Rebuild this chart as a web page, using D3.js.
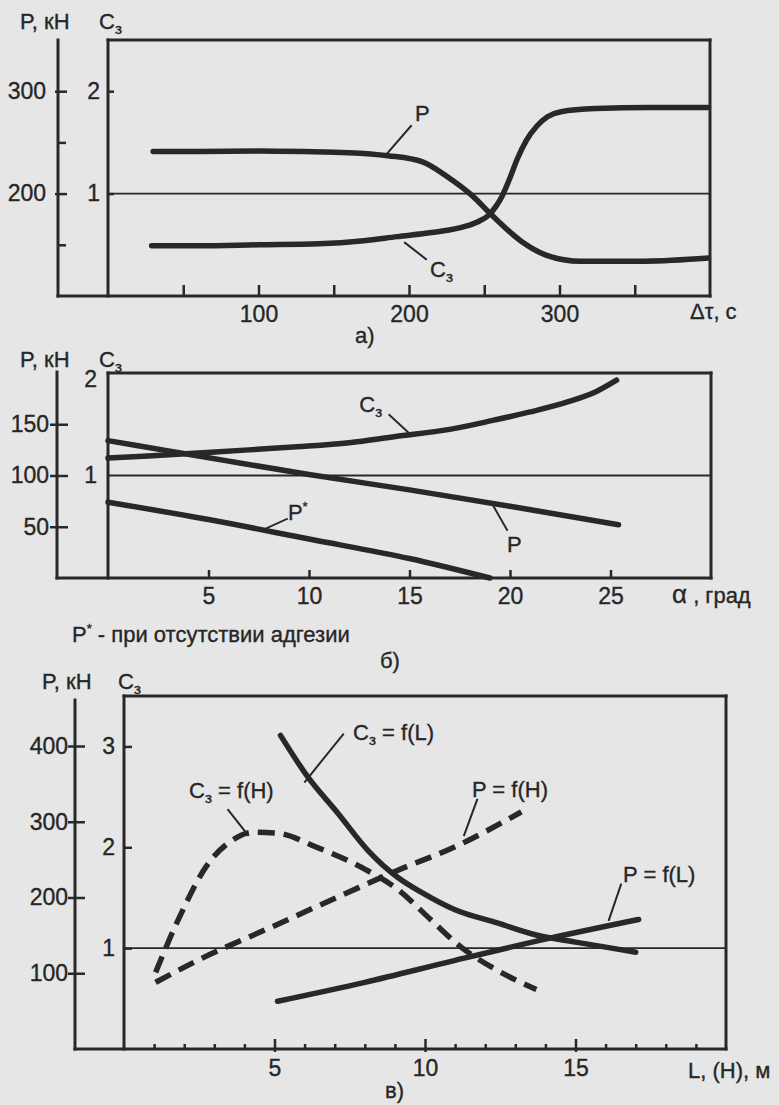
<!DOCTYPE html>
<html>
<head>
<meta charset="utf-8">
<script src="https://cdn.jsdelivr.net/npm/d3@7"></script>
<style>
body { margin:0; background:#e6e6e6; }
svg { display:block; }
text { font-family:"Liberation Sans", Arial, sans-serif; fill:#262626; stroke:#262626; stroke-width:0.35px; }
</style>
</head>
<body>
<svg id="fig" width="779" height="1105"></svg>
<script>
/* panel а) : P and Cз vs Δτ */
var tauTicks = [50,100,150,200,250,300,350];
var tauLabels = [100,200,300];
var aPTicks = [200,300], aPMinor = [150,250], aCTicks = [1,2];
var aP_tau = [30,60,100,130,160,186,209,225,242,255,275,291,314,357,399];
var aP_val = [241,241,241.5,241,240,237,231,217,198,179,153,140,134,134,137];
var aC_tau = [29,60,100,140,170,192,215,232,245,253,258,262,267,272,278,285,292,301,324,360,399];
var aC_val = [0.49,0.49,0.5,0.51,0.54,0.58,0.62,0.66,0.72,0.79,0.88,0.98,1.15,1.34,1.52,1.66,1.75,1.8,1.83,1.84,1.84];

/* panel б) : P, P*, Cз vs α */
var alphaTicks = [5,10,15,20,25];
var bPTicks = [50,100,150], bCTicks = [1,2];
var bC_a = [0,2,4.5,7,9.4,12,14.3,17,19.2,21,22.9,24.3,25.3];
var bC_val = [1.17,1.19,1.22,1.25,1.28,1.32,1.38,1.45,1.54,1.62,1.72,1.82,1.93];
var bP_a = [0,3,6,10,15,20,25.4];
var bP_val = [134,124,114,101,86,70,52];
var bPs_a = [0,5,10,15,19];
var bPs_val = [74,57,38,19,0];

/* panel в) : vs L (solid) and H (dashed) */
var lTicks = [1,2,3,4,5,6,7,8,9,10,11,12,13,14,15,16,17,18,19];
var lLabels = [5,10,15];
var cPTicks = [100,200,300,400], cCTicks = [1,2,3];
var cCL_x = [5.2,6.1,7.1,8.1,9.1,9.9,11.0,12.4,13.7,15.0,16.2,17.0];
var cCL_val = [3.11,2.70,2.34,1.97,1.70,1.55,1.38,1.25,1.13,1.06,1.00,0.96];
var cPL_x = [5.1,8,11,14,17.1];
var cPL_val = [63,88,117,145,171];
var cCH_x = [1.05,1.8,2.8,3.6,4.3,5.1,6.4,7.9,9.1,10.2,11.2,12.4,13.7];
var cCH_val = [0.76,1.28,1.84,2.07,2.15,2.14,2.00,1.80,1.58,1.28,1.01,0.78,0.59];
var cPH_x = [1.05,2.5,4.9,7.4,9.1,11.0,13.2];
var cPH_val = [88,118,161,206,236,267,313];

var ink = "#282828";
var fs = 22;   // label size
var svg = d3.select("#fig");

function zip(xs, ys){ return xs.map(function(d,i){ return [d, ys[i]]; }); }

function curve(g, pts, x, y, dashed){
  var line = d3.line()
    .x(function(d){ return x(d[0]); })
    .y(function(d){ return y(d[1]); })
    .curve(d3.curveMonotoneX);
  g.append("path")
    .datum(pts)
    .attr("fill","none")
    .attr("stroke",ink)
    .attr("stroke-width",5.5)
    .attr("stroke-linecap", dashed ? "butt" : "round")
    .attr("stroke-linejoin","round")
    .attr("stroke-dasharray", dashed ? "17,9" : null)
    .attr("d", line);
}

function seg(g, x1,y1,x2,y2,w){
  g.append("line").attr("x1",x1).attr("y1",y1).attr("x2",x2).attr("y2",y2)
   .attr("stroke",ink).attr("stroke-width",w||3).attr("stroke-linecap","square");
}

// "C" with subscript з
function cz(g, x, y, size, rest){
  var t = g.append("text").attr("x",x).attr("y",y).style("font-size",size+"px");
  t.append("tspan").text("C");
  t.append("tspan").attr("dy",5).style("font-size",(size*0.7)+"px").text("з");
  if(rest){ t.append("tspan").attr("dy",-5).text(rest); }
  return t;
}

function label(g, txt, x, y, size){
  return g.append("text").attr("x",x).attr("y",y).style("font-size",(size||fs)+"px").text(txt);
}

function styleAxis(a){
  a.select(".domain").remove();
  a.selectAll(".tick line").attr("stroke",ink).attr("stroke-width",2.5);
  a.selectAll(".tick text").attr("fill",ink).style("font-size","23px")
   .style("font-family","'Liberation Sans', Arial, sans-serif");
}

// frame: outer P axis, inner Cз box, bottom line, C=1 reference line
function frame(g, outerX, outerTop, x, yc){
  var l = x.range()[0], r = x.range()[1], b = yc.range()[0], t = yc.range()[1];
  seg(g, outerX, outerTop, outerX, b);
  seg(g, outerX, b, r, b);
  seg(g, l, t, r, t);
  seg(g, l, t, l, b);
  seg(g, r, t, r, b);
  g.append("line").attr("x1",l).attr("x2",r).attr("y1",yc(1)).attr("y2",yc(1))
   .attr("stroke",ink).attr("stroke-width",1.8);
}

var fmt = d3.format("d");

/* ---------- а) ---------- */
(function(){
  var g = svg.append("g");
  var x = d3.scaleLinear().domain([0,400]).range([108,710]);
  var yc = d3.scaleLinear().domain([0,2.5]).range([296,40]);
  var yp = d3.scaleLinear().domain([100,350]).range([296,40]);

  frame(g, 58, 40, x, yc);

  var ax = g.append("g").attr("transform","translate(0,296)")
    .call(d3.axisBottom(x).tickValues(tauTicks).tickSize(-11).tickPadding(10)
      .tickFormat(function(d){ return tauLabels.indexOf(d) >= 0 ? d : ""; }));
  styleAxis(ax);

  var ap = g.append("g").attr("transform","translate(58,0)")
    .call(d3.axisLeft(yp).tickValues(aPTicks).tickSize(-9).tickPadding(12).tickFormat(fmt));
  styleAxis(ap);
  ap.selectAll(".tick line").attr("x1",-3);
  var am = g.append("g").attr("transform","translate(58,0)")
    .call(d3.axisLeft(yp).tickValues(aPMinor).tickSize(-8).tickFormat(""));
  styleAxis(am);
  var ac = g.append("g").attr("transform","translate(108,0)")
    .call(d3.axisLeft(yc).tickValues(aCTicks).tickSize(-6).tickPadding(8).tickFormat(fmt));
  styleAxis(ac);

  curve(g, zip(aP_tau, aP_val), x, yp);
  curve(g, zip(aC_tau, aC_val), x, yc);

  label(g, "P, кН", 20, 29);
  cz(g, 99, 29, fs);
  label(g, "Δτ, с", 690, 319);
  label(g, "а)", 355, 343);

  label(g, "P", x(204), yc(1.71));
  seg(g, x(201.3), yc(1.66), x(185.4), yc(1.39), 2);
  cz(g, x(214), yc(0.19), fs);
  seg(g, x(211.3), yc(0.36), x(197.3), yc(0.52), 2);
})();

/* ---------- б) ---------- */
(function(){
  var g = svg.append("g");
  var x = d3.scaleLinear().domain([0,30]).range([108,711]);
  var yc = d3.scaleLinear().domain([0,2]).range([578,373]);
  var yp = d3.scaleLinear().domain([0,200]).range([578,373]);

  frame(g, 57, 372, x, yc);

  var ax = g.append("g").attr("transform","translate(0,578)")
    .call(d3.axisBottom(x).tickValues(alphaTicks).tickSize(-8).tickPadding(10));
  styleAxis(ax);

  var ap = g.append("g").attr("transform","translate(57,0)")
    .call(d3.axisLeft(yp).tickValues(bPTicks).tickSize(-11).tickPadding(8).tickFormat(fmt));
  styleAxis(ap);
  ap.selectAll(".tick line").attr("x1",-7);
  var ac = g.append("g").attr("transform","translate(108,0)")
    .call(d3.axisLeft(yc).tickValues(bCTicks).tickSize(0).tickPadding(11).tickFormat(fmt));
  styleAxis(ac);
  ac.selectAll(".tick text").attr("dy", function(d){ return d == 2 ? "0.6em" : "0.32em"; });

  curve(g, zip(bC_a, bC_val), x, yc);
  curve(g, zip(bP_a, bP_val), x, yp);
  curve(g, zip(bPs_a, bPs_val), x, yp);

  label(g, "P, кН", 20, 367);
  cz(g, 99, 367, fs);
  var al = g.append("text").attr("x",672).attr("y",603).style("font-size",fs+"px");
  al.append("tspan").style("font-size","26px").text("α");
  al.append("tspan").text(" , град");

  var pn = g.append("text").attr("x",72).attr("y",642).style("font-size",fs+"px");
  pn.append("tspan").text("P");
  pn.append("tspan").attr("dy",-9).style("font-size","13px").text("*");
  pn.append("tspan").attr("dy",9).text(" - при отсутствии адгезии");
  label(g, "б)", 380, 668);

  cz(g, x(12.5), yc(1.62), fs);
  seg(g, x(14.0), yc(1.59), x(15.0), yc(1.41), 2);
  label(g, "P", x(19.85), yp(25));
  seg(g, x(19.85), yp(47), x(19.15), yp(71), 2);
  var ps = g.append("text").attr("x",x(8.95)).attr("y",yp(57)).style("font-size",fs+"px");
  ps.append("tspan").text("P");
  ps.append("tspan").attr("dy",-9).style("font-size","13px").text("*");
  seg(g, x(8.9), yp(57.6), x(7.7), yp(46.8), 2);
})();

/* ---------- в) ---------- */
(function(){
  var g = svg.append("g");
  var x = d3.scaleLinear().domain([0,20]).range([124,726]);
  var yc = d3.scaleLinear().domain([0,3.5]).range([1049,696]);
  var yp = d3.scaleLinear().domain([0,466]).range([1049,696]);

  frame(g, 75, 700, x, yc);

  var ax = g.append("g").attr("transform","translate(0,1049)")
    .call(d3.axisBottom(x).tickValues(lTicks).tickSize(-5).tickPadding(11)
      .tickFormat(function(d){ return lLabels.indexOf(d) >= 0 ? d : ""; }));
  styleAxis(ax);
  ax.selectAll(".tick").filter(function(d){ return lLabels.indexOf(d) >= 0; })
    .select("line").attr("y2",-10).attr("y1",3);

  var ap = g.append("g").attr("transform","translate(75,0)")
    .call(d3.axisLeft(yp).tickValues(cPTicks).tickSize(-10).tickPadding(7).tickFormat(fmt));
  styleAxis(ap);
  ap.selectAll(".tick line").attr("x1",-7);
  var ac = g.append("g").attr("transform","translate(123,0)")
    .call(d3.axisLeft(yc).tickValues(cCTicks).tickSize(-9).tickPadding(8).tickFormat(fmt));
  styleAxis(ac);

  curve(g, zip(cCL_x, cCL_val), x, yc);
  curve(g, zip(cPL_x, cPL_val), x, yp);
  curve(g, zip(cCH_x, cCH_val), x, yc, true);
  curve(g, zip(cPH_x, cPH_val), x, yp, true);

  label(g, "P, кН", 42, 689);
  cz(g, 118, 689, fs);
  label(g, "L, (H), м", 688, 1078);
  label(g, "в)", 385, 1098);

  cz(g, x(7.61), yc(3.06), fs, " = f(L)");
  seg(g, x(7.28), yc(3.12), x(6.01), yc(2.65), 2);
  cz(g, x(2.16), yc(2.49), fs, " = f(H)");
  seg(g, x(3.46), yc(2.37), x(4.12), yc(2.12), 2);
  label(g, "P = f(H)", x(11.56), yc(2.50));
  seg(g, x(11.73), yc(2.47), x(11.30), yc(2.12), 2);
  label(g, "P = f(L)", x(16.58), yc(1.66));
  seg(g, x(16.51), yc(1.63), x(16.11), yc(1.28), 2);
})();
</script>
</body>
</html>
